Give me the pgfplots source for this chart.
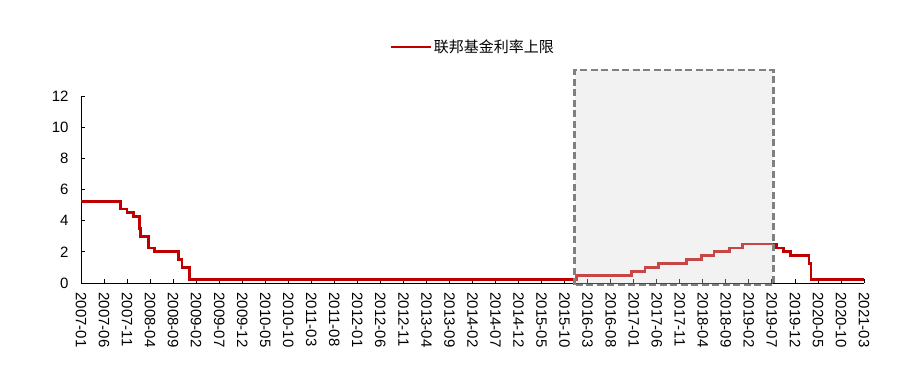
\documentclass[border=0pt]{standalone}
\usepackage{fontspec}
\setmainfont{Liberation Sans}
\newfontfamily\cjk{Noto Sans CJK SC}
\usepackage{pgfplots}
\pgfplotsset{compat=1.18}
\definecolor{fedred}{RGB}{192,0,0}
\definecolor{boxgray}{RGB}{128,128,128}
\definecolor{boxfill}{RGB}{216,216,216}
\begin{document}
\begin{tikzpicture}
\useasboundingbox (-81bp,-105bp) rectangle (843bp,283bp);
\begin{axis}[
  at={(0,0)}, anchor=south west,
  scale only axis,
  width=783bp, height=187bp,
  xmin=0, xmax=170, ymin=0, ymax=12,
  axis lines*=left,
  axis line style={black, line width=0.8bp},
  tick style={black, line width=0.8bp},
  tick align=inside,
  major tick length=4bp,
  xtick={0,5,...,170},
  xticklabels={2007-01,2007-06,2007-11,2008-04,2008-09,2009-02,2009-07,2009-12,2010-05,2010-10,2011-03,2011-08,2012-01,2012-06,2012-11,2013-04,2013-09,2014-02,2014-07,2014-12,2015-05,2015-10,2016-03,2016-08,2017-01,2017-06,2017-11,2018-04,2018-09,2019-02,2019-07,2019-12,2020-05,2020-10,2021-03},
  ytick={0,2,...,12},
  /pgf/number format/assume math mode=true,
  tick label style={font=\fontsize{15bp}{18bp}\selectfont},
  xticklabel style={yshift=-6bp, rotate=-90, anchor=west},
  yticklabel style={xshift=-9bp},
  clip=false,
  legend style={draw=none, fill=none, at={(0.5,1.262)}, anchor=center,
    font=\fontsize{15bp}{18bp}\selectfont\cjk},
  legend image code/.code={\draw[#1] (0bp,0bp) -- (40bp,0bp);},
]
\addplot[fedred, line width=2.8bp, line join=miter] coordinates {
(0,5.25) (8.57,5.25) (8.57,4.75) (9.97,4.75) (9.97,4.5) (11.33,4.5) (11.33,4.25) (12.68,4.25) (12.68,3.5) (12.94,3.5) (12.94,3.0) (14.57,3.0) (14.57,2.25) (15.97,2.25) (15.97,2.0) (21.25,2.0) (21.25,1.5) (21.93,1.5) (21.93,1.0) (23.5,1.0) (23.5,0.25) (107.5,0.25) (107.5,0.5) (119.45,0.5) (119.45,0.75) (122.47,0.75) (122.47,1.0) (125.45,1.0) (125.45,1.25) (131.42,1.25) (131.42,1.5) (134.67,1.5) (134.67,1.75) (137.42,1.75) (137.42,2.0) (140.83,2.0) (140.83,2.25) (143.6,2.25) (143.6,2.5) (150.97,2.5) (150.97,2.25) (152.57,2.25) (152.57,2.0) (153.97,2.0) (153.97,1.75) (158.07,1.75) (158.07,1.25) (158.47,1.25) (158.47,0.25) (170,0.25)
};
\addlegendentry{联邦基金利率上限}
\draw[boxgray, line width=2.6bp, dash pattern=on 7bp off 3.5bp, fill=boxfill, fill opacity=0.33]
  (axis cs:107.2,-0.13) rectangle (axis cs:150.3,13.67);
\end{axis}
\end{tikzpicture}
\end{document}
